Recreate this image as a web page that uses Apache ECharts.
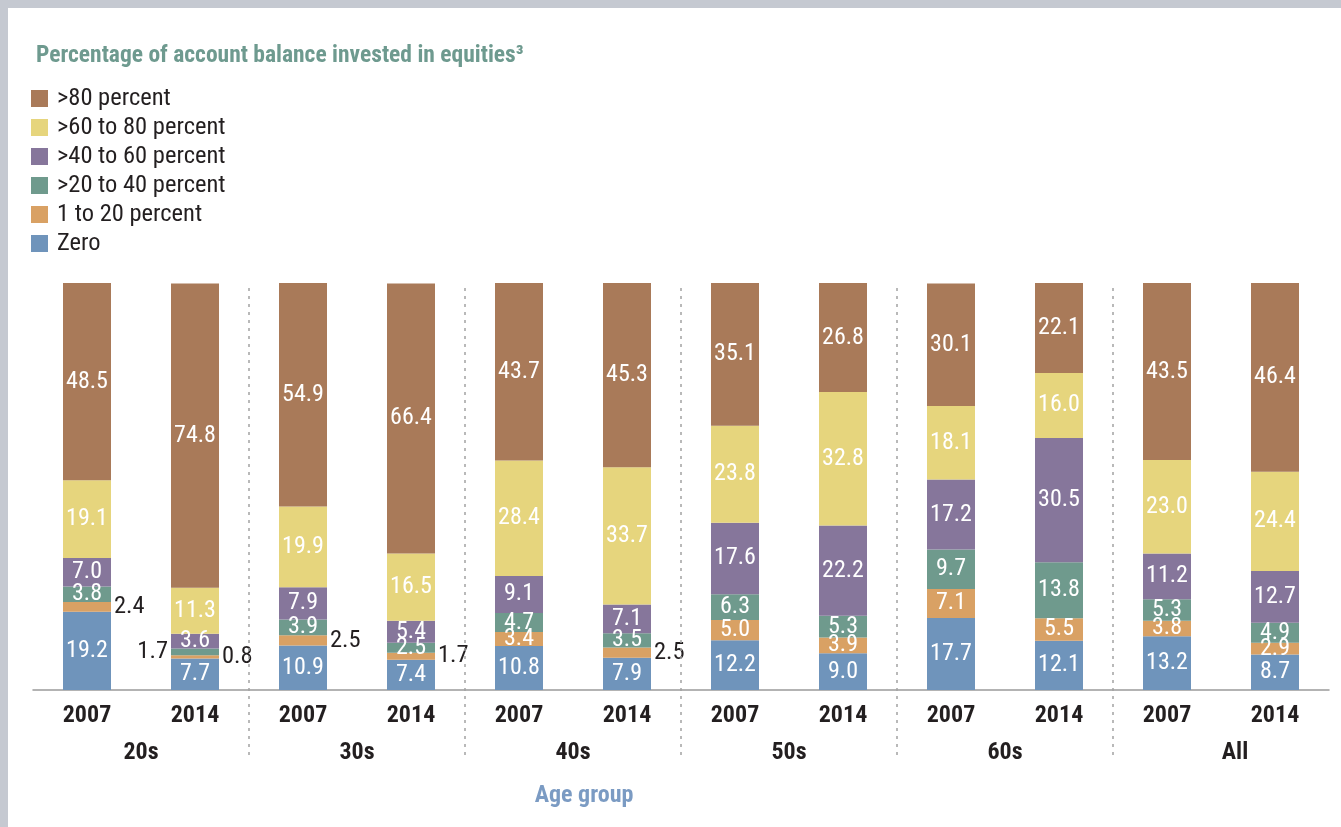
<!DOCTYPE html>
<html>
<head>
<meta charset="utf-8">
<script src="https://cdn.jsdelivr.net/npm/echarts@6/dist/echarts.min.js"></script>
<style>
  html, body { margin: 0; padding: 0; background: #ffffff; }
  #chart { position: absolute; left: 0; top: 0; width: 1341px; height: 827px; }
  .strip { position: absolute; background: #c5c9d1; }
</style>
</head>
<body>
<div id="chart"></div>
<div class="strip" style="left:0;top:0;width:1341px;height:8px;"></div>
<div class="strip" style="left:0;top:0;width:8px;height:827px;"></div>
<script>
// ---- data ----
const groups = ['20s', '30s', '40s', '50s', '60s', 'All'];
const years = ['2007', '2014', '2007', '2014', '2007', '2014', '2007', '2014', '2007', '2014', '2007', '2014'];
const seriesNames = ['Zero', '1 to 20 percent', '>20 to 40 percent', '>40 to 60 percent', '>60 to 80 percent', '>80 percent'];
const zero      = [19.2, 7.7, 10.9, 7.4, 10.8, 7.9, 12.2, 9.0, 17.7, 12.1, 13.2, 8.7];
const pct1to20  = [2.4, 0.8, 2.5, 1.7, 3.4, 2.5, 5.0, 3.9, 7.1, 5.5, 3.8, 2.9];
const pct20to40 = [3.8, 1.7, 3.9, 2.5, 4.7, 3.5, 6.3, 5.3, 9.7, 13.8, 5.3, 4.9];
const pct40to60 = [7.0, 3.6, 7.9, 5.4, 9.1, 7.1, 17.6, 22.2, 17.2, 30.5, 11.2, 12.7];
const pct60to80 = [19.1, 11.3, 19.9, 16.5, 28.4, 33.7, 23.8, 32.8, 18.1, 16.0, 23.0, 24.4];
const pct80     = [48.5, 74.8, 54.9, 66.4, 43.7, 45.3, 35.1, 26.8, 30.1, 22.1, 43.5, 46.4];
const groupDividers = [2, 4, 6, 8, 10];

// ---- styling ----
const FONT = '"Liberation Sans Narrow", "Roboto Condensed", "DejaVu Sans Condensed", Roboto, sans-serif';
const colors = ['#6f94bb', '#d9a164', '#6f9a8d', '#86769b', '#e6d57d', '#a97a59'];
const DARK = '#231f20';
// label placement for segments too small to hold their value (series index -> category index -> side)
const outsidePlacement = { 1: { 0: 'right', 1: 'right', 2: 'right', 3: 'right', 5: 'right' }, 2: { 1: 'left' } };

const allValues = [zero, pct1to20, pct20to40, pct40to60, pct60to80, pct80];

const series = allValues.map((vals, si) => ({
  name: seriesNames[si],
  type: 'bar',
  stack: 'total',
  barWidth: 48,
  xAxisIndex: 0,
  yAxisIndex: 0,
  itemStyle: { color: colors[si] },
  label: {
    show: true,
    position: 'inside',
    color: '#ffffff',
    fontFamily: FONT,
    fontSize: 24,
    formatter: p => p.value.toFixed(1)
  },
  data: vals.map((v, ci) => {
    const side = outsidePlacement[si] && outsidePlacement[si][ci];
    if (!side) return v;
    return {
      value: v,
      label: { position: side, distance: 3, color: DARK, fontSize: 24.5, fontFamily: FONT }
    };
  })
}));

series.push({
  type: 'line',
  xAxisIndex: 2,
  yAxisIndex: 0,
  data: [],
  silent: true,
  markLine: {
    silent: true,
    symbol: ['none', 'none'],
    label: { show: false },
    lineStyle: { color: '#a3a3a3', width: 1.5, type: [3, 5] },
    data: groupDividers.map(x => ({ xAxis: x }))
  }
});

const groupAxisData = groups.map(g => g === 'All'
  ? { value: g, textStyle: { padding: [0, 0, 0, 28] } }
  : g);

const chart = echarts.init(document.getElementById('chart'), null, { renderer: 'canvas' });
chart.setOption({
  backgroundColor: '#ffffff',
  animation: false,
  title: [
    {
      text: 'Percentage of account balance invested in equities³',
      left: 31, top: 39,
      textStyle: { color: '#6e9a8f', fontFamily: FONT, fontSize: 23.5, fontWeight: 'bold' }
    },
    {
      text: 'Age group',
      left: 579, top: 779, textAlign: 'center',
      textStyle: { color: '#7b9bc3', fontFamily: FONT, fontSize: 24, fontWeight: 'bold' }
    }
  ],
  legend: {
    orient: 'vertical',
    left: 26, top: 81,
    icon: 'rect',
    itemWidth: 17, itemHeight: 17,
    itemGap: 4,
    data: seriesNames.slice().reverse(),
    textStyle: { color: DARK, fontFamily: FONT, fontSize: 24.5, lineHeight: 24, padding: [0, 0, 0, 4] },
    selectedMode: false
  },
  grid: { left: 33, right: 12, top: 283, bottom: 72, containLabel: false },
  xAxis: [
    {
      type: 'category',
      data: years,
      position: 'bottom',
      offset: -65,
      axisLine: { onZero: false, lineStyle: { color: '#9a9a9a', width: 1.5 } },
      axisTick: { show: false },
      axisLabel: { color: DARK, fontFamily: FONT, fontSize: 24, fontWeight: 'bold', margin: 14, interval: 0 }
    },
    {
      type: 'category',
      data: groupAxisData,
      position: 'bottom',
      offset: -65,
      axisLine: { show: false, onZero: false },
      axisTick: { show: false },
      axisLabel: { color: DARK, fontFamily: FONT, fontSize: 24, fontWeight: 'bold', margin: 51, interval: 0 }
    },
    {
      type: 'value',
      min: 0, max: 12,
      show: false
    }
  ],
  yAxis: {
    type: 'value',
    min: -16, max: 100,
    show: false
  },
  series: series
});
</script>
</body>
</html>
